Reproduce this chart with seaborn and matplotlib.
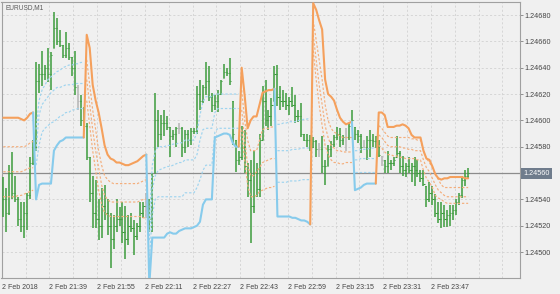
import numpy as np
import pandas as pd
import matplotlib
matplotlib.use("Agg")
import matplotlib.pyplot as plt
import matplotlib.transforms as mtransforms
import seaborn as sns

symbol_label = "EURUSD,M1"
first_bar_time = "2018-02-02 21:23"

high = [
    1.24557, 1.24549, 1.24566, 1.24576, 1.24558, 1.24542, 1.24538, 1.24538, 1.24545, 1.24572,
    1.24585, 1.24644, 1.24643, 1.24653, 1.24642, 1.24655, 1.24652, 1.24682, 1.24678, 1.24669,
    1.24657, 1.24667, 1.24659, 1.24648, 1.24653, 1.24627, 1.24619, 1.24610, 1.24598, 1.24572,
    1.24558, 1.24555, 1.24540, 1.24549, 1.24551, 1.24540, 1.24530, 1.24528, 1.24540, 1.24534,
    1.24538, 1.24535, 1.24528, 1.24530, 1.24524, 1.24522, 1.24538, 1.24538, 1.24545, 1.24540,
    1.24560, 1.24621, 1.24608, 1.24604, 1.24608, 1.24603, 1.24595, 1.24593, 1.24595, 1.24598,
    1.24595, 1.24593, 1.24593, 1.24594, 1.24594, 1.24626, 1.24631, 1.24627, 1.24644, 1.24641,
    1.24621, 1.24619, 1.24623, 1.24631, 1.24643, 1.24640, 1.24647, 1.24615, 1.24585, 1.24577,
    1.24596, 1.24593, 1.24568, 1.24570, 1.24577, 1.24568, 1.24590, 1.24626, 1.24631, 1.24608,
    1.24617, 1.24641, 1.24642, 1.24626, 1.24623, 1.24621, 1.24618, 1.24625, 1.24619, 1.24608,
    1.24613, 1.24590, 1.24590, 1.24589, 1.24587, 1.24585, 1.24583, 1.24588, 1.24570, 1.24581,
    1.24584, 1.24589, 1.24595, 1.24594, 1.24589, 1.24594, 1.24598, 1.24608, 1.24595, 1.24593,
    1.24590, 1.24585, 1.24588, 1.24593, 1.24590, 1.24588, 1.24585, 1.24573, 1.24570, 1.24577,
    1.24570, 1.24572, 1.24588, 1.24577, 1.24573, 1.24568, 1.24572, 1.24568, 1.24572, 1.24570,
    1.24562, 1.24562, 1.24550, 1.24553, 1.24550, 1.24544, 1.24538, 1.24538, 1.24536, 1.24532,
    1.24536, 1.24536, 1.24540, 1.24545, 1.24558, 1.24562, 1.24564,
]
low = [
    1.24527, 1.24515, 1.24528, 1.24540, 1.24538, 1.24520, 1.24515, 1.24511, 1.24517, 1.24540,
    1.24566, 1.24577, 1.24621, 1.24626, 1.24631, 1.24629, 1.24623, 1.24655, 1.24657, 1.24656,
    1.24647, 1.24647, 1.24646, 1.24634, 1.24619, 1.24608, 1.24596, 1.24593, 1.24570, 1.24538,
    1.24518, 1.24518, 1.24509, 1.24511, 1.24524, 1.24513, 1.24488, 1.24502, 1.24515, 1.24520,
    1.24507, 1.24495, 1.24505, 1.24515, 1.24498, 1.24509, 1.24515, 1.24526, 1.24526, 1.24515,
    1.24515, 1.24560, 1.24580, 1.24585, 1.24588, 1.24593, 1.24572, 1.24585, 1.24580, 1.24590,
    1.24572, 1.24575, 1.24580, 1.24581, 1.24590, 1.24590, 1.24608, 1.24613, 1.24619, 1.24615,
    1.24606, 1.24608, 1.24606, 1.24619, 1.24632, 1.24634, 1.24627, 1.24581, 1.24561, 1.24566,
    1.24570, 1.24560, 1.24542, 1.24507, 1.24530, 1.24542, 1.24542, 1.24585, 1.24596, 1.24593,
    1.24596, 1.24615, 1.24611, 1.24608, 1.24610, 1.24608, 1.24604, 1.24610, 1.24598, 1.24599,
    1.24587, 1.24584, 1.24580, 1.24577, 1.24579, 1.24572, 1.24572, 1.24560, 1.24551, 1.24565,
    1.24572, 1.24580, 1.24585, 1.24580, 1.24581, 1.24577, 1.24585, 1.24598, 1.24585, 1.24583,
    1.24575, 1.24579, 1.24570, 1.24572, 1.24580, 1.24579, 1.24572, 1.24565, 1.24560, 1.24560,
    1.24562, 1.24565, 1.24572, 1.24560, 1.24558, 1.24557, 1.24560, 1.24553, 1.24550, 1.24557,
    1.24553, 1.24550, 1.24534, 1.24538, 1.24536, 1.24527, 1.24522, 1.24518, 1.24519, 1.24519,
    1.24520, 1.24524, 1.24528, 1.24536, 1.24541, 1.24550, 1.24556,
]
close = [
    1.24540, 1.24530, 1.24560, 1.24545, 1.24540, 1.24525, 1.24520, 1.24530, 1.24543, 1.24568,
    1.24580, 1.24630, 1.24635, 1.24635, 1.24640, 1.24635, 1.24650, 1.24670, 1.24660, 1.24657,
    1.24650, 1.24655, 1.24648, 1.24640, 1.24625, 1.24615, 1.24600, 1.24596, 1.24572, 1.24545,
    1.24530, 1.24525, 1.24520, 1.24535, 1.24530, 1.24520, 1.24510, 1.24520, 1.24525, 1.24525,
    1.24515, 1.24510, 1.24520, 1.24518, 1.24512, 1.24520, 1.24530, 1.24535, 1.24535, 1.24525,
    1.24558, 1.24600, 1.24590, 1.24598, 1.24598, 1.24595, 1.24588, 1.24590, 1.24594, 1.24594,
    1.24580, 1.24590, 1.24585, 1.24592, 1.24592, 1.24620, 1.24615, 1.24625, 1.24630, 1.24618,
    1.24612, 1.24615, 1.24620, 1.24630, 1.24637, 1.24636, 1.24630, 1.24590, 1.24570, 1.24572,
    1.24580, 1.24565, 1.24555, 1.24535, 1.24560, 1.24548, 1.24585, 1.24615, 1.24600, 1.24603,
    1.24612, 1.24635, 1.24618, 1.24615, 1.24615, 1.24612, 1.24615, 1.24612, 1.24603, 1.24603,
    1.24590, 1.24585, 1.24585, 1.24580, 1.24584, 1.24578, 1.24578, 1.24565, 1.24565, 1.24578,
    1.24582, 1.24587, 1.24590, 1.24585, 1.24587, 1.24587, 1.24596, 1.24600, 1.24590, 1.24588,
    1.24580, 1.24580, 1.24585, 1.24585, 1.24584, 1.24580, 1.24574, 1.24570, 1.24565, 1.24568,
    1.24568, 1.24570, 1.24575, 1.24565, 1.24562, 1.24565, 1.24562, 1.24565, 1.24562, 1.24560,
    1.24556, 1.24552, 1.24540, 1.24545, 1.24540, 1.24530, 1.24525, 1.24530, 1.24525, 1.24528,
    1.24530, 1.24532, 1.24538, 1.24543, 1.24555, 1.24558, 1.24560,
]
neutral_bars = [25, 48, 59, 106, 115, 121, 127]

band = [
    1.24602, 1.24602, 1.24602, 1.24602, 1.24602, 1.24602, 1.24601, 1.24600, 1.24602, 1.24605, 1.24606,
    1.24540, 1.24551, 1.24552, 1.24552, 1.24552, 1.24552, 1.24577, 1.24581, 1.24584, 1.24585,
    1.24587, 1.24587, 1.24587, 1.24587, 1.24587, 1.24587, 1.24587,
    1.24665, 1.24655, 1.24627, 1.24615, 1.24606, 1.24594, 1.24581, 1.24574, 1.24571, 1.24570,
    1.24568, 1.24568, 1.24567, 1.24566, 1.24566, 1.24567, 1.24568, 1.24569, 1.24571, 1.24573, 1.24574,
    1.24475, 1.24511, 1.24511, 1.24511, 1.24511, 1.24511, 1.24514, 1.24515, 1.24514, 1.24514,
    1.24516, 1.24517, 1.24518, 1.24518, 1.24518, 1.24519, 1.24520, 1.24523, 1.24536, 1.24540,
    1.24540, 1.24540, 1.24587, 1.24588, 1.24589, 1.24590, 1.24590, 1.24589, 1.24583, 1.24580, 1.24580,
    1.24640, 1.24619, 1.24594, 1.24600, 1.24603, 1.24603, 1.24612, 1.24621, 1.24622, 1.24623,
    1.24623, 1.24624,
    1.24527, 1.24527, 1.24527, 1.24527, 1.24527, 1.24526, 1.24526, 1.24525, 1.24524, 1.24524,
    1.24523, 1.24521,
    1.24689, 1.24684, 1.24676, 1.24669, 1.24631, 1.24620, 1.24618, 1.24615, 1.24608, 1.24602,
    1.24599, 1.24597, 1.24598, 1.24599,
    1.24547, 1.24548, 1.24549, 1.24551, 1.24552, 1.24552, 1.24552, 1.24552,
    1.24606, 1.24606, 1.24604, 1.24595, 1.24595, 1.24595, 1.24596, 1.24596, 1.24597, 1.24596,
    1.24594, 1.24589, 1.24587, 1.24587, 1.24587, 1.24577, 1.24571, 1.24570, 1.24565, 1.24559,
    1.24556, 1.24555, 1.24556, 1.24556, 1.24557, 1.24557, 1.24557, 1.24557, 1.24557, 1.24556, 1.24556,
]
band_runs = [("upper", 11), ("lower", 17), ("upper", 21), ("lower", 31), ("upper", 12),
             ("lower", 12), ("upper", 14), ("lower", 8), ("upper", 31)]

level1 = [
    1.24580, 1.24580, 1.24580, 1.24580, 1.24580, 1.24580, 1.24580, 1.24580, 1.24581, 1.24583, 1.24584,
    1.24566, 1.24581, 1.24591, 1.24594, 1.24596, 1.24598, 1.24599, 1.24601, 1.24603, 1.24604,
    1.24606, 1.24606, 1.24608, 1.24608, 1.24609, 1.24609, 1.24609,
    1.24646, 1.24627, 1.24608, 1.24593, 1.24577, 1.24566, 1.24558, 1.24555, 1.24553, 1.24552,
    1.24552, 1.24552, 1.24552, 1.24552, 1.24552, 1.24552, 1.24552, 1.24552, 1.24553, 1.24554, 1.24555,
    1.24494, 1.24528, 1.24540, 1.24542, 1.24542, 1.24542, 1.24542, 1.24542, 1.24542, 1.24542,
    1.24542, 1.24542, 1.24545, 1.24545, 1.24545, 1.24545, 1.24549, 1.24555, 1.24562, 1.24566,
    1.24566, 1.24566, 1.24591, 1.24594, 1.24594, 1.24594, 1.24594, 1.24594, 1.24594, 1.24594, 1.24594,
    1.24623, 1.24600, 1.24585, 1.24577, 1.24577, 1.24577, 1.24585, 1.24593, 1.24594, 1.24594,
    1.24595, 1.24595,
    1.24553, 1.24553, 1.24553, 1.24553, 1.24554, 1.24554, 1.24554, 1.24554, 1.24555, 1.24555,
    1.24555, 1.24555,
    1.24676, 1.24661, 1.24646, 1.24631, 1.24612, 1.24600, 1.24594, 1.24591, 1.24590, 1.24588,
    1.24587, 1.24587, 1.24587, 1.24587,
    1.24561, 1.24561, 1.24561, 1.24561, 1.24561, 1.24561, 1.24561, 1.24561,
    1.24596, 1.24594, 1.24591, 1.24588, 1.24587, 1.24587, 1.24587, 1.24587, 1.24587, 1.24587,
    1.24587, 1.24586, 1.24586, 1.24585, 1.24585, 1.24577, 1.24571, 1.24568, 1.24564, 1.24559,
    1.24555, 1.24551, 1.24549, 1.24549, 1.24549, 1.24549, 1.24549, 1.24549, 1.24549, 1.24549, 1.24549,
]
level2 = [
    1.24561, 1.24561, 1.24561, 1.24561, 1.24561, 1.24561, 1.24561, 1.24562, 1.24563, 1.24564, 1.24564,
    1.24577, 1.24604, 1.24612, 1.24615, 1.24618, 1.24621, 1.24623, 1.24625, 1.24625, 1.24626,
    1.24627, 1.24627, 1.24627, 1.24628, 1.24628, 1.24628, 1.24628,
    1.24631, 1.24612, 1.24593, 1.24577, 1.24564, 1.24551, 1.24543, 1.24540, 1.24538, 1.24538,
    1.24538, 1.24538, 1.24538, 1.24538, 1.24538, 1.24538, 1.24538, 1.24538, 1.24539, 1.24540, 1.24540,
    1.24509, 1.24547, 1.24558, 1.24562, 1.24563, 1.24564, 1.24565, 1.24565, 1.24566, 1.24567,
    1.24568, 1.24568, 1.24570, 1.24570, 1.24570, 1.24570, 1.24574, 1.24585, 1.24593, 1.24594,
    1.24594, 1.24594, 1.24606, 1.24609, 1.24609, 1.24609, 1.24609, 1.24609, 1.24609, 1.24609, 1.24609,
    1.24608, 1.24585, 1.24566, 1.24558, 1.24558, 1.24561, 1.24564, 1.24568, 1.24569, 1.24570,
    1.24571, 1.24571,
    1.24577, 1.24577, 1.24577, 1.24577, 1.24577, 1.24578, 1.24578, 1.24578, 1.24579, 1.24579,
    1.24579, 1.24579,
    1.24665, 1.24646, 1.24627, 1.24612, 1.24596, 1.24587, 1.24581, 1.24579, 1.24577, 1.24577,
    1.24576, 1.24576, 1.24576, 1.24576,
    1.24570, 1.24570, 1.24571, 1.24571, 1.24571, 1.24571, 1.24571, 1.24571,
    1.24589, 1.24587, 1.24584, 1.24581, 1.24580, 1.24580, 1.24580, 1.24580, 1.24579, 1.24579,
    1.24578, 1.24578, 1.24577, 1.24577, 1.24577, 1.24570, 1.24564, 1.24561, 1.24556, 1.24551,
    1.24547, 1.24545, 1.24543, 1.24542, 1.24542, 1.24542, 1.24542, 1.24542, 1.24542, 1.24542, 1.24542,
]
level3 = [
    1.24542, 1.24542, 1.24542, 1.24542, 1.24542, 1.24543, 1.24543, 1.24544, 1.24545, 1.24546, 1.24547,
    1.24593, 1.24615, 1.24623, 1.24627, 1.24631, 1.24633, 1.24635, 1.24637, 1.24638, 1.24640,
    1.24641, 1.24642, 1.24642, 1.24643, 1.24643, 1.24644, 1.24644,
    1.24615, 1.24596, 1.24577, 1.24562, 1.24547, 1.24536, 1.24530, 1.24528, 1.24527, 1.24527,
    1.24527, 1.24527, 1.24527, 1.24527, 1.24527, 1.24527, 1.24527, 1.24527, 1.24527, 1.24526, 1.24526,
    1.24524, 1.24566, 1.24577, 1.24580, 1.24580, 1.24580, 1.24581, 1.24581, 1.24582, 1.24582,
    1.24583, 1.24583, 1.24585, 1.24585, 1.24585, 1.24585, 1.24591, 1.24604, 1.24614, 1.24618,
    1.24618, 1.24618, 1.24620, 1.24620, 1.24620, 1.24620, 1.24620, 1.24620, 1.24620, 1.24620, 1.24620,
    1.24593, 1.24570, 1.24551, 1.24542, 1.24542, 1.24543, 1.24546, 1.24547, 1.24548, 1.24549,
    1.24549, 1.24550,
    1.24597, 1.24597, 1.24598, 1.24598, 1.24599, 1.24599, 1.24599, 1.24600, 1.24600, 1.24601,
    1.24601, 1.24602,
    1.24653, 1.24631, 1.24612, 1.24596, 1.24581, 1.24574, 1.24570, 1.24568, 1.24568, 1.24567,
    1.24567, 1.24568, 1.24568, 1.24568,
    1.24577, 1.24577, 1.24578, 1.24578, 1.24578, 1.24579, 1.24579, 1.24579,
    1.24581, 1.24579, 1.24576, 1.24574, 1.24574, 1.24573, 1.24573, 1.24572, 1.24572, 1.24571,
    1.24571, 1.24571, 1.24571, 1.24570, 1.24570, 1.24562, 1.24556, 1.24553, 1.24549, 1.24543,
    1.24541, 1.24540, 1.24538, 1.24537, 1.24537, 1.24537, 1.24537, 1.24537, 1.24537, 1.24537, 1.24537,
]
price_ticks = [1.24500, 1.24520, 1.24540, 1.24560, 1.24580, 1.24600, 1.24620, 1.24640, 1.24660, 1.24680]

# ---------------- style ----------------
BG = "#f0f0f0"
GREEN = "#3c9c3c"
NEUTRAL = "#b4b4b4"
ORANGE = "#f5a05c"
ORANGE_D = "#f4ae7c"
BLUE = "#87cbec"
BLUE_D = "#9fd4ef"
TEXT = "#454545"

sns.set_style("white", rc={"axes.facecolor": BG, "figure.facecolor": BG})
plt.rcParams["font.family"] = ["Liberation Sans", "DejaVu Sans"]

n = len(high)
for arr in (low, close, band, level1, level2, level3):
    assert len(arr) == n, len(arr)
assert sum(r for _, r in band_runs) == n

idx = np.arange(n)
H = np.array(high)
L = np.array(low)
C = np.array(close)
O = np.clip(np.concatenate([[C[0]], C[:-1]]), L, H)
B = np.array(band)
levels = [np.array(level1), np.array(level2), np.array(level3)]
times = pd.date_range(first_bar_time, periods=n, freq="min")

W, Hpx = 560, 294
fig = plt.figure(figsize=(W / 100, Hpx / 100), dpi=100, facecolor=BG)
ax = fig.add_axes([1.5 / W, 16 / Hpx, 518.5 / W, 276 / Hpx])
ax.set_facecolor(BG)

# bars
cols = [NEUTRAL if i in neutral_bars else GREEN for i in idx]
ax.vlines(idx, L, H, colors=cols, lw=1.1, zorder=3)
ax.hlines(O, idx - 0.4, idx, colors=cols, lw=0.75, zorder=3)
ax.hlines(C, idx, idx + 0.4, colors=cols, lw=0.75, zorder=3)

# indicator
pos = 0
for kind, length in band_runs:
    end = pos + length
    col = ORANGE if kind == "upper" else BLUE
    dcol = ORANGE_D if kind == "upper" else BLUE_D
    for lv in levels:
        sns.lineplot(x=idx[pos:end], y=lv[pos:end], ax=ax, color=dcol, lw=0.85,
                     linestyle=(0, (2.0, 1.6)), zorder=4)
    a = max(pos - 1, 0)
    sns.lineplot(x=idx[a:end], y=B[a:end], ax=ax, color=col, lw=1.5, zorder=5)
    pos = end

# bid line
ax.axhline(C[-1], color="#8c8c8c", lw=0.9, zorder=2)

ax.set_xlim(-0.6, 173.4)
ax.set_ylim(1.244803, 1.246899)

# axes / ticks
ax.yaxis.tick_right()
ax.set_yticks(price_ticks)
ax.set_yticklabels(["" if abs(p - C[-1]) < 1e-7 else f"{p:.5f}" for p in price_ticks])
ax.tick_params(axis="y", which="major", length=2.2, width=0.6, pad=1.2, labelsize=5.2,
               colors="#808080", labelcolor=TEXT)

xt = idx[::16]
ax.set_xticks(xt - 0.5)
labels = []
for k, i in enumerate(xt):
    t = times[i]
    labels.append(f"{t.day} {t:%b %Y}" if k == 0 else f"{t.day} {t:%b %H:%M}")
ax.set_xticklabels(labels, ha="left")
ax.set_xticks(np.arange(0, 174, 8) - 0.5, minor=True)
ax.tick_params(axis="x", which="major", length=3, width=0.6, pad=1.5, labelsize=5,
               colors="#808080", labelcolor=TEXT)
ax.tick_params(axis="x", which="minor", length=0)

ax.set_axisbelow(True)
ax.grid(True, axis="x", which="both", color="#d2d2d2", lw=0.6, linestyle=(0, (2.5, 2.5)))
ax.grid(True, axis="y", which="major", color="#d2d2d2", lw=0.6, linestyle=(0, (2.5, 2.5)))

for sp in ax.spines.values():
    sp.set_color("#a0a0a0")
    sp.set_linewidth(0.8)

ax.set_xlabel("")
ax.set_ylabel("")

# symbol caption
ax.text(0.007, 0.993, symbol_label, transform=ax.transAxes, ha="left", va="top",
        fontsize=4.7, color="#5a5a5a")

# current price box
trans = mtransforms.blended_transform_factory(ax.transAxes, ax.transData)
ax.annotate(f"{C[-1]:.5f}", xy=(1.0, C[-1]), xycoords=trans, xytext=(2.3, 0),
            textcoords="offset points", ha="left", va="center", fontsize=5.2,
            color="white", annotation_clip=False,
            bbox=dict(boxstyle="square,pad=0.28", fc="#6f7c8c", ec="none"))

fig.savefig("out.png", dpi=100, facecolor=BG)
